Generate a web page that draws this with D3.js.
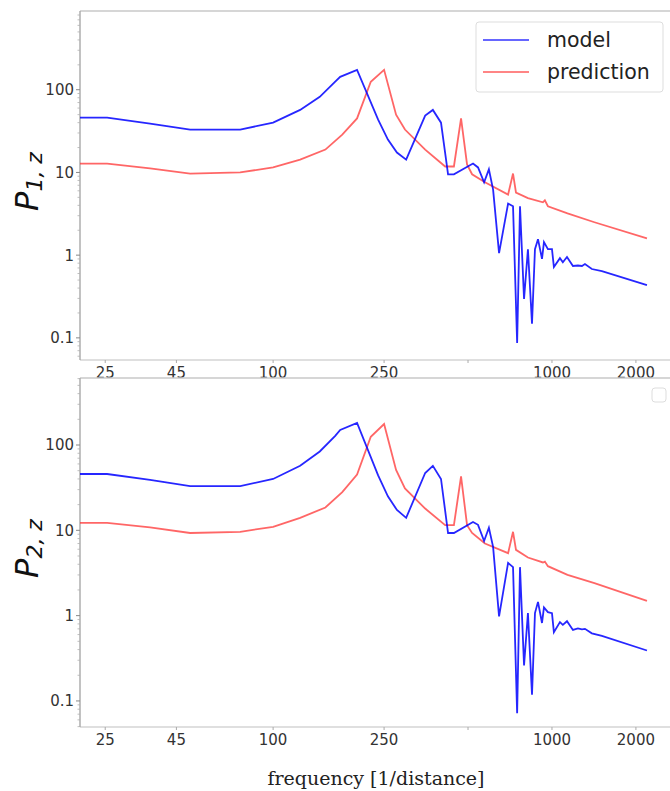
<!DOCTYPE html>
<html>
<head>
<meta charset="utf-8">
<script src="https://cdn.jsdelivr.net/npm/d3@7"></script>
<style>
  body { margin: 0; background: #fff; }
  svg { display: block; }
</style>
</head>
<body>
<div id="vis"></div>
<script>
// frequency grid of the model curve and its values in both panels
const modelFreq = [20.3, 25.4, 36.2, 50.4, 76.2, 100, 125, 147, 167, 174, 200, 238, 258, 278, 300, 351, 374, 400, 424, 445,
    521, 543, 571, 594, 615, 646, 696, 725, 750, 768, 794, 820, 848, 869, 891, 921, 936, 967, 1000, 1016,
    1068, 1094, 1132, 1189, 1239, 1281, 1313, 1390, 1510, 2191];
const modelP1 = [46, 46, 39, 33, 33, 40, 57, 82, 125, 143, 174, 43.5, 25, 17.4, 14.3, 48.6, 57, 40, 9.5, 9.5,
    12.8, 11.5, 7.6, 10.9, 6.2, 1.06, 4.2, 3.9, 0.087, 3.9, 0.295, 1.18, 0.148, 1.18, 1.56, 0.9, 1.44, 1.18, 1.18, 0.72,
    0.92, 0.82, 0.95, 0.74, 0.75, 0.74, 0.78, 0.68, 0.64, 0.435];
const modelP2 = [45.7, 45.7, 39, 33, 33, 40, 57, 84, 128, 150, 181, 44, 25, 17.3, 14, 47, 57, 40, 9.3, 9.3,
    12.5, 11.6, 7.5, 10.7, 6.4, 0.98, 4.15, 3.7, 0.072, 3.7, 0.26, 1.07, 0.118, 1.07, 1.45, 0.82, 1.25, 1.1, 1.07, 0.64,
    0.84, 0.78, 0.86, 0.68, 0.71, 0.69, 0.7, 0.62, 0.58, 0.39];

// frequency grid of the prediction curve and its values
const predFreq = [20.3, 25.4, 36.2, 50.4, 76.2, 100, 125, 154, 177, 200, 224, 250, 276, 297, 351, 414, 445, 472, 496, 517,
    575, 696, 725, 743, 820, 928, 943, 967, 1137, 1420, 2191];
const predP1 = [12.8, 12.8, 11.2, 9.7, 10, 11.5, 14.3, 18.9, 28.7, 45, 125, 174, 50, 33, 18.9, 11.8, 11.8, 45, 12.5, 9.5,
    7.6, 5.4, 9.7, 5.7, 4.9, 4.35, 4.6, 3.9, 3.2, 2.5, 1.6];
const predP2 = [12.2, 12.2, 10.8, 9.3, 9.6, 11, 14, 18.5, 28, 45, 125, 176, 51, 31, 18, 11.5, 11.5, 43, 11.5, 9.3,
    7, 5.4, 9.6, 5.9, 4.8, 4.2, 4.3, 3.8, 3.0, 2.4, 1.49];

const xTicks = [25, 45, 100, 250, 500, 1000, 2000];
const xTickLabels = ["25", "45", "100", "250", "", "1000", "2000"];
const yTicks = [0.1, 1, 10, 100];
const yTickLabels = ["0.1", "1", "10", "100"];
const seriesNames = ["model", "prediction"];

const W = 670, H = 791;
const left = 80, right = 670;
const tickFont = "'DejaVu Sans', sans-serif";
const blue = "#0000ff", red = "#ff3333";

const svg = d3.select("#vis").append("svg")
    .attr("width", W)
    .attr("height", H);

const x = d3.scaleLog().domain([20.3, 2650]).range([left, right]);

const panels = [
    {top: 11, bottom: 360, yDomain: [0.054, 895], model: modelP1, pred: predP1, sub: "1, z", legend: true},
    {top: 378, bottom: 727, yDomain: [0.0495, 610], model: modelP2, pred: predP2, sub: "2, z", legend: false}
];

panels.forEach(p => {
    const y = d3.scaleLog().domain(p.yDomain).range([p.bottom, p.top]);
    const g = svg.append("g");

    // spines
    g.append("line").attr("x1", left).attr("x2", right).attr("y1", p.top).attr("y2", p.top)
        .attr("stroke", "#c8c8c8").attr("stroke-width", 1.6);
    g.append("line").attr("x1", left).attr("x2", right).attr("y1", p.bottom).attr("y2", p.bottom)
        .attr("stroke", "#d4d4d4").attr("stroke-width", 1.6);
    g.append("line").attr("x1", left).attr("x2", left).attr("y1", p.top).attr("y2", p.bottom)
        .attr("stroke", "#a8a8a8").attr("stroke-width", 1.4);

    // y minor ticks
    const minor = [];
    for (let e = -2; e <= 3; e++) for (let k = 2; k <= 9; k++) {
        const v = k * Math.pow(10, e);
        if (v > p.yDomain[0] && v < p.yDomain[1]) minor.push(v);
    }
    g.selectAll(".ymin").data(minor).join("line")
        .attr("x1", left - 2.5).attr("x2", left)
        .attr("y1", d => y(d)).attr("y2", d => y(d))
        .attr("stroke", "#b0b0b0").attr("stroke-width", 0.8);

    // y major ticks + labels
    g.selectAll(".ymaj").data(yTicks).join("line")
        .attr("x1", left - 4).attr("x2", left)
        .attr("y1", d => y(d)).attr("y2", d => y(d))
        .attr("stroke", "#888").attr("stroke-width", 1);
    g.selectAll(".ylab").data(yTicks).join("text")
        .attr("x", left - 6).attr("y", d => y(d)).attr("dy", "0.36em")
        .attr("text-anchor", "end")
        .attr("font-family", tickFont).attr("font-size", 15).attr("fill", "#333")
        .text((d, i) => yTickLabels[i]);

    // x ticks + labels
    g.selectAll(".xt").data(xTicks).join("line")
        .attr("x1", d => x(d)).attr("x2", d => x(d))
        .attr("y1", p.bottom).attr("y2", p.bottom + 3)
        .attr("stroke", "#aaa").attr("stroke-width", 1);
    g.selectAll(".xlab").data(xTicks).join("text")
        .attr("x", d => x(d)).attr("y", p.bottom + 18)
        .attr("text-anchor", "middle")
        .attr("font-family", tickFont).attr("font-size", 15).attr("fill", "#333")
        .text((d, i) => xTickLabels[i]);

    // y label P_{n,z}
    const cy = (p.top + p.bottom) / 2 - 4;
    const lab = g.append("text")
        .attr("transform", `translate(38,${cy}) rotate(-90)`)
        .attr("text-anchor", "middle")
        .attr("font-family", tickFont).attr("font-style", "italic").attr("fill", "#111");
    lab.append("tspan").attr("font-size", 32).text("P");
    lab.append("tspan").attr("font-size", 22).attr("dy", 4).text(p.sub);

    // curves
    const line = d3.line().x(d => x(d[0])).y(d => y(d[1]));
    g.append("path").datum(predFreq.map((f, i) => [f, p.pred[i]]))
        .attr("d", line).attr("fill", "none")
        .attr("stroke", red).attr("stroke-opacity", 0.75).attr("stroke-width", 1.8);
    g.append("path").datum(modelFreq.map((f, i) => [f, p.model[i]]))
        .attr("d", line).attr("fill", "none")
        .attr("stroke", blue).attr("stroke-opacity", 0.85).attr("stroke-width", 1.8);

    // legend
    if (p.legend) {
        const lg = g.append("g");
        lg.append("rect").attr("x", 476).attr("y", 22).attr("width", 187).attr("height", 70).attr("rx", 3)
            .attr("fill", "#fff").attr("fill-opacity", 0.85).attr("stroke", "#ddd");
        const cols = [blue, red];
        seriesNames.forEach((s, i) => {
            const ly = 40 + i * 32;
            lg.append("line").attr("x1", 483).attr("x2", 529).attr("y1", ly).attr("y2", ly)
                .attr("stroke", cols[i]).attr("stroke-opacity", 0.6).attr("stroke-width", 1.8);
            lg.append("text").attr("x", 547).attr("y", ly).attr("dy", "0.33em")
                .attr("font-family", tickFont).attr("font-size", 20.5).attr("fill", "#222")
                .text(s);
        });
    } else {
        g.append("rect").attr("x", 652).attr("y", p.top + 10).attr("width", 14).attr("height", 14).attr("rx", 3)
            .attr("fill", "#fff").attr("stroke", "#ddd");
    }
});

svg.append("text")
    .attr("x", 376).attr("y", 785)
    .attr("text-anchor", "middle")
    .attr("font-family", "'DejaVu Serif', serif").attr("font-size", 19).attr("fill", "#222")
    .text("frequency [1/distance]");
</script>
</body>
</html>
